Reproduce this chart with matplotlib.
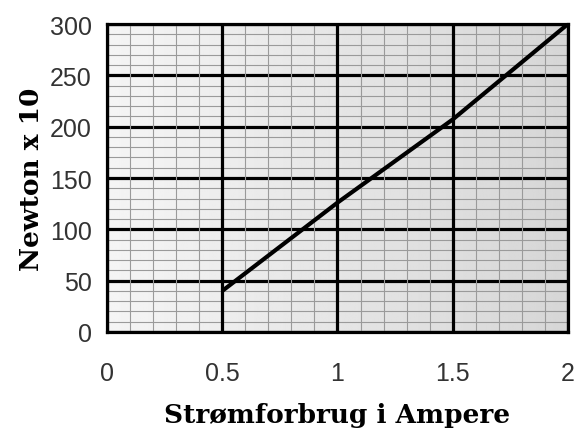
import matplotlib.pyplot as plt
import numpy as np
from matplotlib.ticker import MultipleLocator

# current (A) vs force (N x 10)
ampere = [0.5, 1.0, 1.5, 2.0]
newton = [40, 126, 207, 300]

xticks = [0, 0.5, 1, 1.5, 2]
xlabels = ['0', '0.5', '1', '1.5', '2']
yticks = [0, 50, 100, 150, 200, 250, 300]

plt.rcParams['font.family'] = 'Liberation Sans'

fig = plt.figure(figsize=(5.86, 4.35), dpi=100)
ax = fig.add_axes([0.1826, 0.2345, 0.7866, 0.708])

# gray gradient background, lighter on the left
grad = np.linspace(0.96, 0.84, 256).reshape(1, -1)
ax.imshow(grad, cmap='gray', vmin=0, vmax=1, aspect='auto',
          extent=[0, 2, 0, 300], zorder=0)

ax.set_xlim(0, 2)
ax.set_ylim(0, 300)
ax.set_xticks(xticks)
ax.set_xticklabels(xlabels)
ax.set_yticks(yticks)
ax.xaxis.set_minor_locator(MultipleLocator(0.1))
ax.yaxis.set_minor_locator(MultipleLocator(10))

# horizontal majors sit under the fine grid, vertical majors on top
for y in yticks:
    ax.axhline(y, color='black', lw=2.3, zorder=1)
ax.grid(which='minor', color='#9a9a9a', lw=0.8, zorder=2)
for x in xticks:
    ax.axvline(x, color='black', lw=2.3, zorder=3)

ax.tick_params(which='both', length=0)
ax.tick_params(axis='both', labelsize=18, labelcolor='#333333')
ax.tick_params(axis='x', pad=21)
ax.tick_params(axis='y', pad=11)
for sp in ax.spines.values():
    sp.set_linewidth(2.3)
    sp.set_zorder(3)

ax.plot(ampere, newton, color='black', lw=3, zorder=4, solid_capstyle='butt')

ax.set_xlabel('Strømforbrug i Ampere', fontfamily='DejaVu Serif',
              fontweight='bold', fontsize=19, labelpad=12)
ax.set_ylabel('Newton x 10', fontfamily='DejaVu Serif',
              fontweight='bold', fontsize=19, labelpad=4)

fig.savefig('out.png', dpi=100)
